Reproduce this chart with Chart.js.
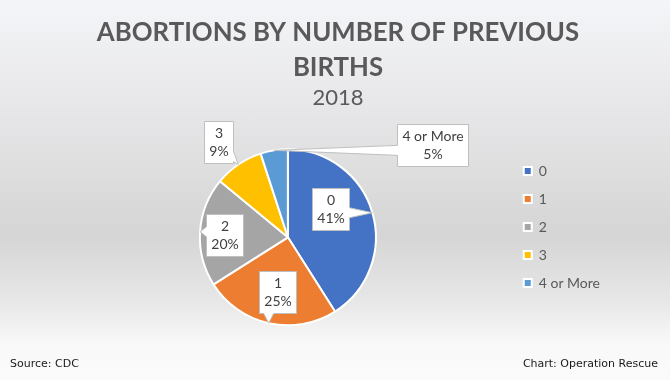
<!DOCTYPE html>
<html>
<head>
<meta charset="utf-8">
<script src="https://cdn.jsdelivr.net/npm/chart.js@4.4.1/dist/chart.umd.min.js"></script>
<style>
  html, body { margin: 0; padding: 0; }
  body {
    width: 670px; height: 380px; overflow: hidden; position: relative;
    background: linear-gradient(to bottom, #f4f5f8 0%, #e6e6e8 30%, #d5d5d5 62%, #e8e8e8 80%, #f8f8f8 90%, #fbfbfb 100%);
  }
  #wrap { position: absolute; left: 0; top: 0; width: 670px; height: 380px; }
  .foot { position: absolute; top: 357px; font-family: "DejaVu Sans", Verdana, sans-serif; font-size: 11px; color: #1a1a1a; }
</style>
</head>
<body>
<div id="wrap"><canvas id="c" width="670" height="380"></canvas></div>
<div class="foot" style="left:10px;">Source: CDC</div>
<div class="foot" style="right:12px;">Chart: Operation Rescue</div>
<script>
const titleLines = ['ABORTIONS BY NUMBER OF PREVIOUS', 'BIRTHS'];
const subtitleText = '2018';
const categories = ['0', '1', '2', '3', '4 or More'];
const shares = [41, 25, 20, 9, 5];
const sliceColors = ['#4472C4', '#ED7D31', '#A5A5A5', '#FFC000', '#5B9BD5'];

// label box centre offsets relative to pie centre, in units of radius
const labelOffsets = [[0.483, -0.324], [-0.119, 0.625], [-0.722, -0.023], [-0.784, -1.08], [1.642, -1.045]];

function calloutPath(ctx, x0, y0, x1, y1, tx, ty) {
  let side;
  const dl = x0 - tx, dr = tx - x1, dt = y0 - ty, db = ty - y1;
  const m = Math.max(dl, dr, dt, db);
  if (m <= 0) side = null;
  else if (m === dl) side = 'left';
  else if (m === dr) side = 'right';
  else if (m === dt) side = 'top';
  else side = 'bottom';
  const hw = 5;
  const clamp = (v, a, b) => Math.max(a, Math.min(b, v));
  ctx.beginPath();
  ctx.moveTo(x0, y0);
  if (side === 'top') {
    const c = clamp(tx, x0 + hw + 2, x1 - hw - 2);
    ctx.lineTo(c - hw, y0); ctx.lineTo(tx, ty); ctx.lineTo(c + hw, y0);
  }
  ctx.lineTo(x1, y0);
  if (side === 'right') {
    const c = clamp(ty, y0 + hw + 2, y1 - hw - 2);
    ctx.lineTo(x1, c - hw); ctx.lineTo(tx, ty); ctx.lineTo(x1, c + hw);
  }
  ctx.lineTo(x1, y1);
  if (side === 'bottom') {
    const c = clamp(tx, x0 + hw + 2, x1 - hw - 2);
    ctx.lineTo(c + hw, y1); ctx.lineTo(tx, ty); ctx.lineTo(c - hw, y1);
  }
  ctx.lineTo(x0, y1);
  if (side === 'left') {
    const c = clamp(ty, y0 + hw + 2, y1 - hw - 2);
    ctx.lineTo(x0, c + hw); ctx.lineTo(tx, ty); ctx.lineTo(x0, c - hw);
  }
  ctx.closePath();
}

const calloutPlugin = {
  id: 'callouts',
  afterDatasetsDraw(chart) {
    const meta = chart.getDatasetMeta(0);
    const ds = chart.data.datasets[0].data;
    const total = ds.reduce((a, b) => a + b, 0);
    const ctx = chart.ctx;
    ctx.save();
    ctx.font = '14px Lato, "Open Sans", sans-serif';
    meta.data.forEach((arc, i) => {
      const p = arc.getProps(['x', 'y', 'startAngle', 'endAngle', 'outerRadius'], true);
      const mid = (p.startAngle + p.endAngle) / 2;
      const tx = p.x + Math.cos(mid) * p.outerRadius;
      const ty = p.y + Math.sin(mid) * p.outerRadius;
      const off = labelOffsets[i];
      const cx = p.x + off[0] * p.outerRadius;
      const cy = p.y + off[1] * p.outerRadius;
      const l1 = chart.data.labels[i];
      const l2 = Math.round(ds[i] / total * 100) + '%';
      const w = Math.round(Math.max(ctx.measureText(l1).width, ctx.measureText(l2).width) + 10);
      const h = 42;
      const x0 = Math.round(cx - w / 2) + 0.5, y0 = Math.round(cy - h / 2) + 0.5;
      calloutPath(ctx, x0, y0, x0 + w, y0 + h, tx, ty);
      ctx.fillStyle = '#ffffff';
      ctx.fill();
      ctx.strokeStyle = '#bfbfbf';
      ctx.lineWidth = 1;
      ctx.stroke();
      ctx.fillStyle = '#404040';
      ctx.textAlign = 'center';
      ctx.textBaseline = 'middle';
      ctx.fillText(l1, x0 + w / 2, y0 + 12);
      ctx.fillText(l2, x0 + w / 2, y0 + 30);
    });
    ctx.restore();
  }
};

new Chart(document.getElementById('c'), {
  type: 'pie',
  data: {
    labels: categories,
    datasets: [{
      data: shares,
      backgroundColor: sliceColors,
      borderColor: '#ffffff',
      borderWidth: 2
    }]
  },
  plugins: [calloutPlugin],
  options: {
    responsive: false,
    animation: false,
    radius: 88,
    layout: { padding: { left: 66, right: 60, top: 0, bottom: 49 } },
    plugins: {
      title: {
        display: true,
        text: titleLines,
        color: '#595959',
        font: { family: 'Lato, "Open Sans", sans-serif', size: 25.8, weight: 'bold', lineHeight: 1.36 },
        padding: { top: 15, bottom: 0 }
      },
      subtitle: {
        display: true,
        text: subtitleText,
        color: '#595959',
        font: { family: 'Lato, "Open Sans", sans-serif', size: 22, weight: 'normal' },
        padding: { top: 0, bottom: 32 }
      },
      legend: {
        position: 'right',
        title: { display: true, text: '', font: { size: 12, lineHeight: 1 }, padding: { top: 111, bottom: 0 } },
        labels: {
          color: '#595959',
          font: { family: 'Lato, "Open Sans", sans-serif', size: 14 },
          boxWidth: 8,
          boxHeight: 8,
          padding: 14
        }
      },
      tooltip: { enabled: false }
    }
  }
});
</script>
</body>
</html>
